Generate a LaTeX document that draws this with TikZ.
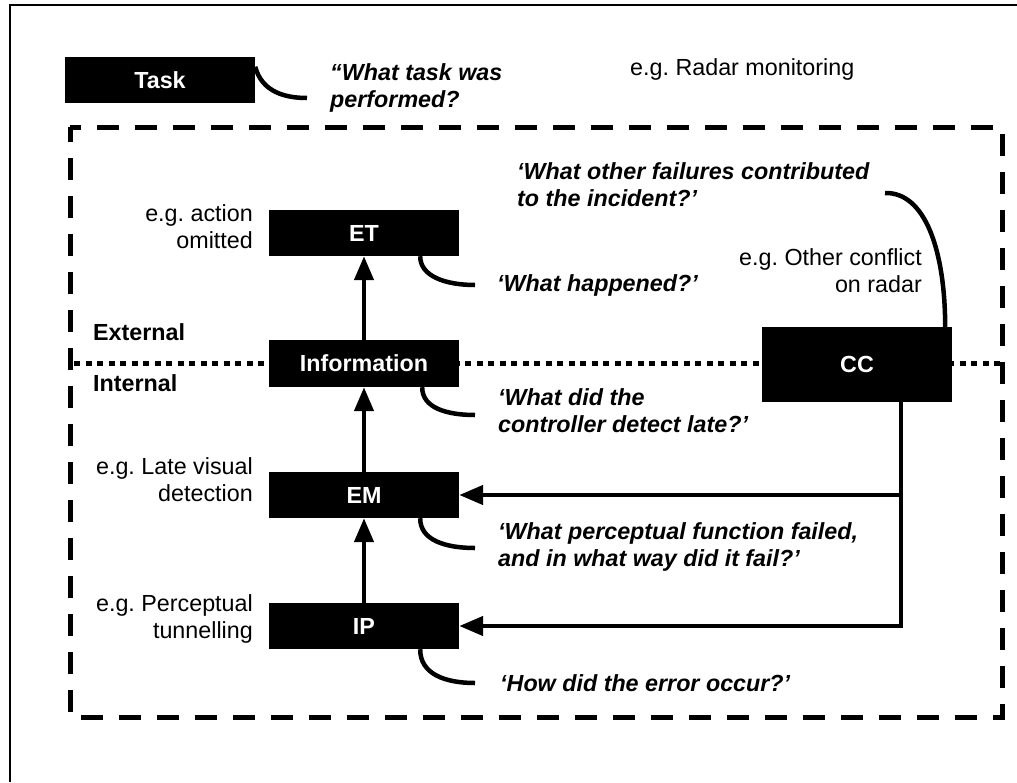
\documentclass[tikz,border=0pt]{standalone}
\usepackage{fontspec}
\setmainfont{Liberation Sans}
\usetikzlibrary{arrows.meta}
\newcommand{\txtsize}{\fontsize{23.3}{26.5}\selectfont}
\frenchspacing
\begin{document}
\begin{tikzpicture}[x=1pt,y=-1pt,
  box/.style={fill=black,text=white,font=\txtsize\bfseries,
    minimum width=190pt,minimum height=46pt,inner sep=0pt},
  quest/.style={font=\txtsize\bfseries\itshape,align=left,anchor=base west,inner sep=0pt},
  example/.style={font=\txtsize,align=right,anchor=base east,inner sep=0pt},
  zone/.style={font=\txtsize\bfseries,anchor=base west,inner sep=0pt},
  link/.style={line width=4.5pt},
  flow/.style={line width=4.5pt,-{Triangle[length=24pt,width=19pt]}},
  boundary/.style={line width=5pt,dash pattern=on 22pt off 16pt,dash phase=11pt},
  divider/.style={line width=5pt,dash pattern=on 6pt off 5.5pt}]
\useasboundingbox (0,0) rectangle (1017,782);

% frame
\draw[line width=2.5pt] (10,782) -- (10,5) -- (1017,5);

% system boundary and external/internal divider
\draw[boundary] (70,127) -- (1002,127) -- (1002,717) -- (70,717) -- cycle;
\draw[divider] (74,363) -- (1000,363);

% boxes
\node[box] (task) at (160,80) {Task};
\node[box] (et) at (364,233) {ET};
\node[box,minimum height=47pt] (info) at (364,363.5) {Information};
\node[box] (em) at (364,495) {EM};
\node[box] (ip) at (364,626) {IP};
\node[box,minimum height=75pt] (cc) at (857,364.5) {CC};

% vertical flow
\draw[flow] (ip) -- (em);
\draw[flow] (em) -- (info);
\draw[flow] (info) -- (et);

% contributory conditions feeding back
\coordinate (ccout) at ([xshift=44pt]cc.south);
\draw[flow] (ccout) |- (ip.east);
\draw[flow] (ccout |- em.east) -- (em.east);

% question callouts
\coordinate (tq) at (307,98);
\coordinate (etq) at (475,285);
\coordinate (infoq) at (475,415);
\coordinate (emq) at (475,548);
\coordinate (ipq) at (475,683);
\coordinate (ccq) at (885,193);
\draw[link] ([yshift=-10pt]task.north east) .. controls (262,92) and (285,98) .. (tq);
\draw[link] ([xshift=-39pt]et.south east) .. controls (420,276) and (445,285) .. (etq);
\draw[link] ([xshift=-37pt]info.south east) .. controls (422,408) and (447,415) .. (infoq);
\draw[link] ([xshift=-39pt]em.south east) .. controls (420,540) and (445,548) .. (emq);
\draw[link] ([xshift=-39pt]ip.south east) .. controls (420,674) and (445,683) .. (ipq);
\draw[link] (ccq) .. controls (925,192) and (945,250) .. ([xshift=-7pt]cc.north east);

% questions (positions are the baseline of the last line)
\node[quest] (qtask) at (330,107) {“What task was\\performed?};
\node[quest] (qcc) at (517,206) {‘What other failures contributed\\to the incident?’};
\node[quest] (qet) at (497,291) {‘What happened?’};
\node[quest] (qinfo) at (498,432) {‘What did the\\controller detect late?’};
\node[quest] (qem) at (498,566) {‘What perceptual function failed,\\and in what way did it fail?’};
\node[quest] (qip) at (500,691) {‘How did the error occur?’};

% examples
\node[font=\txtsize,anchor=base west,inner sep=0pt] (xtask) at (630,75) {e.g. Radar monitoring};
\node[example] (xet) at (253,248) {e.g. action\\omitted};
\node[example] (xcc) at (922,292) {e.g. Other conflict\\on radar};
\node[example] (xem) at (253,501) {e.g. Late visual\\detection};
\node[example] (xip) at (253,638) {e.g. Perceptual\\tunnelling};

% zones
\node[zone] (ext) at (93,340) {External};
\node[zone] (int) at (93,391) {Internal};
\end{tikzpicture}
\end{document}
